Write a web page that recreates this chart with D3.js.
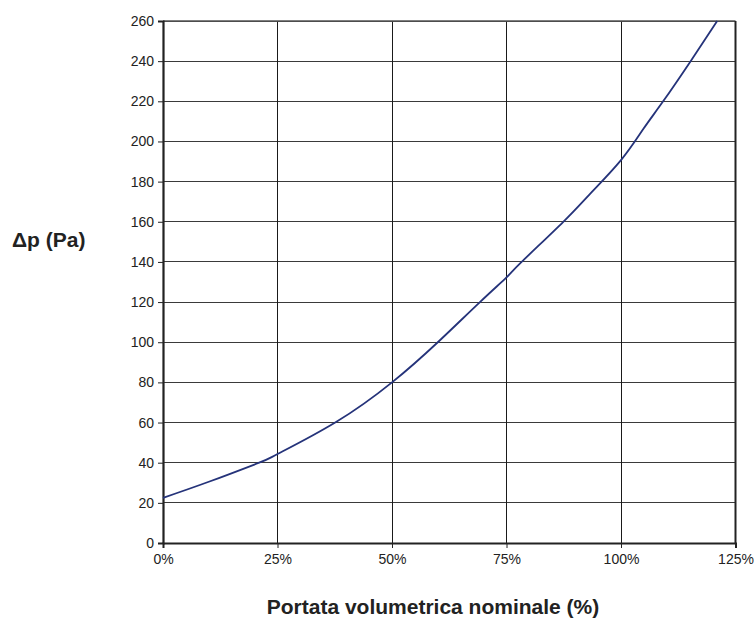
<!DOCTYPE html>
<html><head><meta charset="utf-8">
<script src="https://cdn.jsdelivr.net/npm/d3@7"></script>
<style>body{margin:0;background:#fff}svg{display:block}</style>
</head><body>
<svg id="c" width="754" height="620"></svg>
<script>
const flowPct = [0, 10, 21, 25, 37.6, 50, 60, 69.2, 75, 78.3, 87.4, 93.2, 100, 104.9, 109.2, 115.2, 121];
const pressurePa = [22.5, 30.5, 40, 44.3, 60, 80, 100, 120, 132.3, 140, 160, 173.8, 190.7, 206.3, 220, 240, 260];
const xTicks = [0, 25, 50, 75, 100, 125];
const yTicks = [0, 20, 40, 60, 80, 100, 120, 140, 160, 180, 200, 220, 240, 260];

const svg = d3.select("#c");
const L = 163, R = 735.5, T = 21, B = 543;
const x = d3.scaleLinear().domain([0, 125]).range([L, R]);
const y = d3.scaleLinear().domain([0, 260]).range([B, T]);
const font = "Arial, 'Liberation Sans', sans-serif";

svg.append("g").selectAll("line").data(yTicks).join("line")
  .attr("x1", L).attr("x2", R).attr("y1", d => y(d)).attr("y2", d => y(d))
  .attr("stroke", "#3a3a3a").attr("stroke-width", 1).attr("shape-rendering", "crispEdges");
svg.append("g").selectAll("line").data(xTicks).join("line")
  .attr("x1", d => x(d)).attr("x2", d => x(d)).attr("y1", T).attr("y2", B)
  .attr("stroke", "#1a1a1a").attr("stroke-width", 1).attr("shape-rendering", "crispEdges");

svg.append("line").attr("x1", L).attr("x2", R).attr("y1", T).attr("y2", T).attr("stroke", "#555").attr("stroke-width", 1.5);
svg.append("line").attr("x1", R).attr("x2", R).attr("y1", T).attr("y2", B).attr("stroke", "#222").attr("stroke-width", 2);

const yAxis = d3.axisLeft(y).tickValues(yTicks).tickSize(5).tickPadding(4);
const gy = svg.append("g").attr("transform", `translate(${L},0)`).call(yAxis);
gy.select(".domain").attr("stroke", "#222").attr("stroke-width", 2.2);
gy.selectAll(".tick line").attr("stroke", "#222");
gy.selectAll("text").attr("font-family", font).attr("font-size", 14).attr("fill", "#222");

const xAxis = d3.axisBottom(x).tickValues(xTicks).tickFormat(d => d + "%").tickSize(5).tickPadding(6);
const gx = svg.append("g").attr("transform", `translate(0,${B})`).call(xAxis);
gx.select(".domain").attr("stroke", "#222").attr("stroke-width", 2);
gx.selectAll(".tick line").attr("stroke", "#222");
gx.selectAll("text").attr("font-family", font).attr("font-size", 14).attr("fill", "#222");

const pts = flowPct.map((v, i) => [v, pressurePa[i]]);
svg.append("path").datum(pts)
  .attr("d", d3.line().x(d => x(d[0])).y(d => y(d[1])).curve(d3.curveNatural))
  .attr("fill", "none").attr("stroke", "#25337a").attr("stroke-width", 1.8);

svg.append("text").attr("x", 12).attr("y", 247).text("Δp (Pa)")
  .attr("font-family", font).attr("font-size", 21).attr("font-weight", "bold").attr("fill", "#222");
svg.append("text").attr("x", 433).attr("y", 614).attr("text-anchor", "middle").text("Portata volumetrica nominale (%)")
  .attr("font-family", font).attr("font-size", 21).attr("font-weight", "bold").attr("fill", "#222");
</script>
</body></html>
